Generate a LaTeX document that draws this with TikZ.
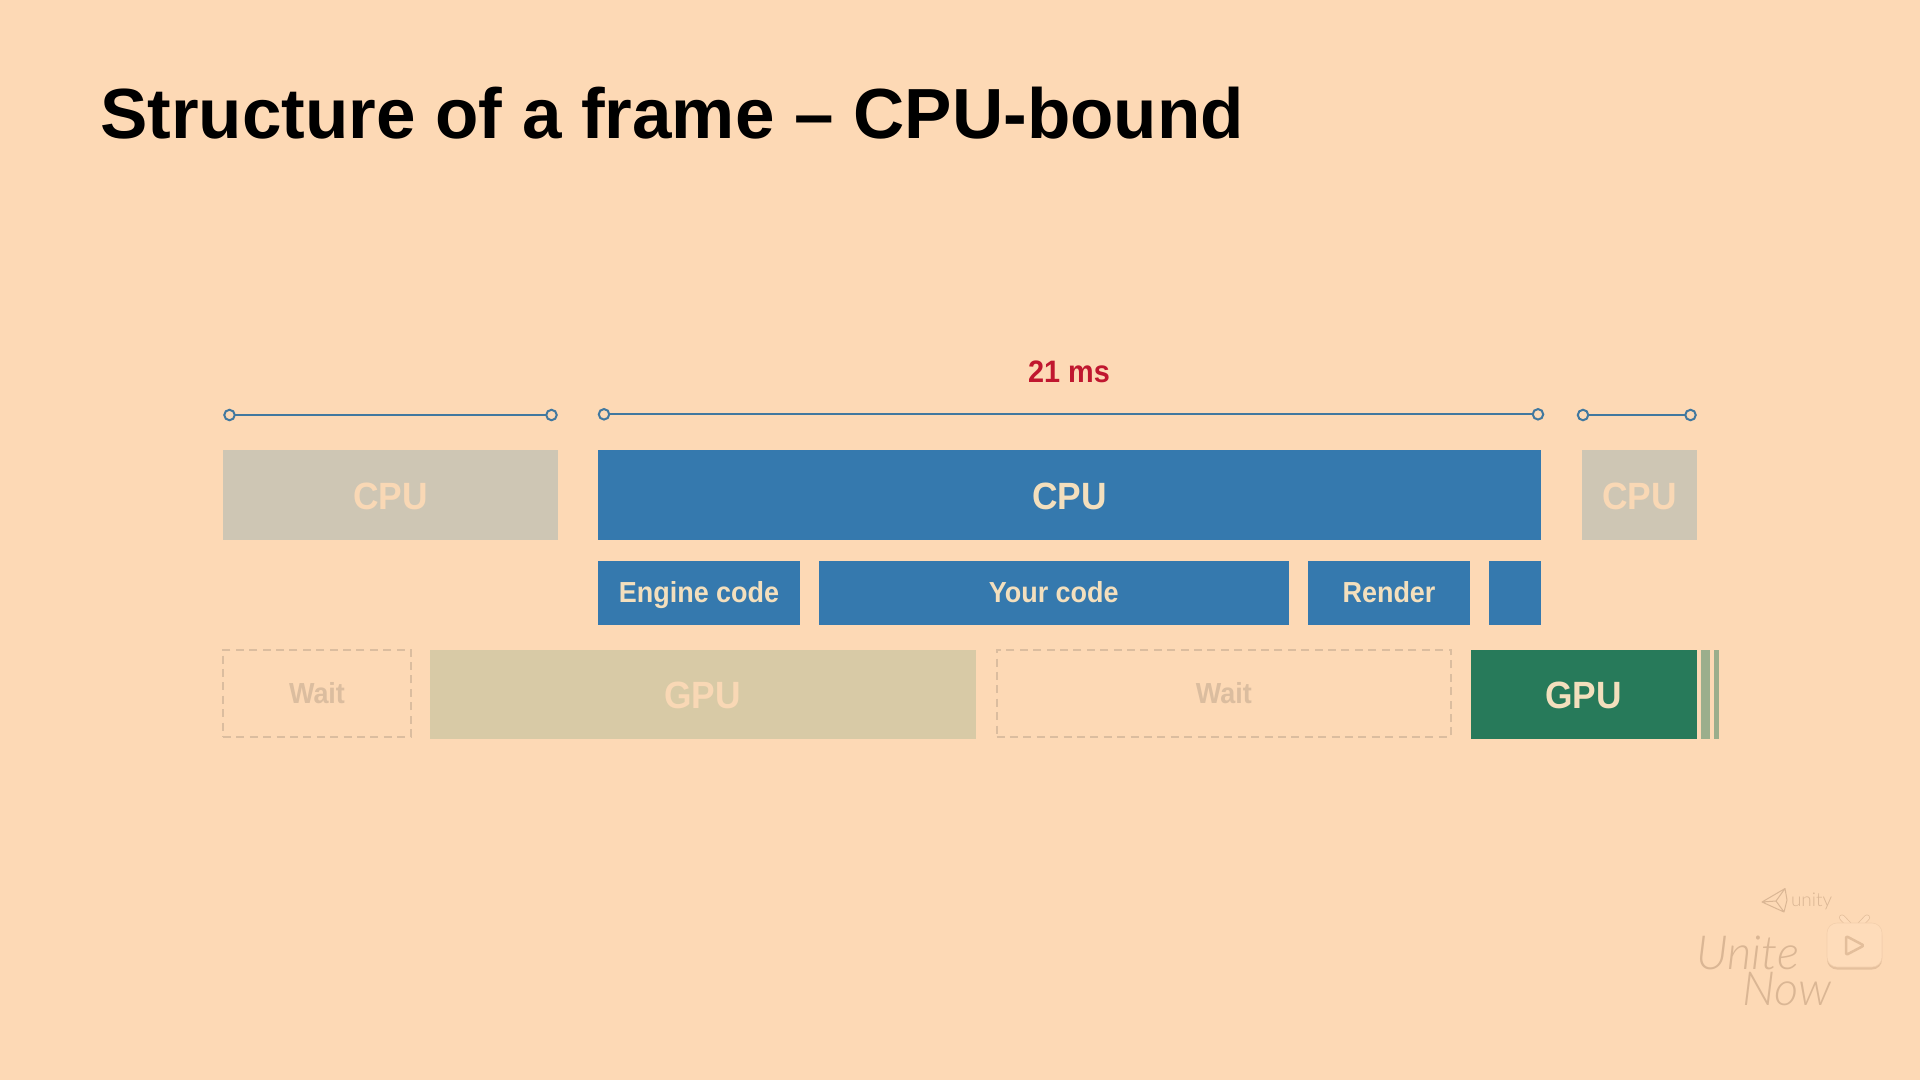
\documentclass[tikz,border=0pt]{standalone}
\usepackage{fontspec}
\usepackage{xcolor}
\usetikzlibrary{positioning,shadows}
\setmainfont{Liberation Sans}
\newfontfamily\slidefont[FakeStretch=0.93]{Liberation Sans}
\newfontfamily\brandfont{Lato Light Italic}
\newfontfamily\unityfont{Lato Light}
\definecolor{slidebg}{HTML}{FDD9B5}
\definecolor{cpublue}{HTML}{3579AE}
\definecolor{spanblue}{HTML}{41789F}
\definecolor{cpufaded}{HTML}{CEC6B4}
\definecolor{gpufaded}{HTML}{D8CAA6}
\definecolor{gpugreen}{HTML}{277A5A}
\definecolor{gpustripe}{HTML}{9BAE8C}
\definecolor{labelcream}{HTML}{F3DFBD}
\definecolor{labelfaded}{HTML}{F9D8B5}
\definecolor{waitgrey}{HTML}{DBBD9F}
\definecolor{msred}{HTML}{C0172F}
\definecolor{brandline}{HTML}{DAB694}
\definecolor{brandlight}{HTML}{FEDCBA}
\definecolor{brandshade}{HTML}{E3BE9B}
\definecolor{brandedge}{HTML}{F3CFAC}

\begin{document}
\begin{tikzpicture}[
    x=1pt, y=-1pt,
    nosep/.style={inner sep=0, outer sep=0},
    bigbox/.style={nosep, minimum height=90pt, text height=28.8pt, text depth=0pt, font=\slidefont\bfseries\fontsize{38}{38}\selectfont},
    subbox/.style={nosep, fill=cpublue, text=labelcream, minimum height=64.5pt, text height=20pt, text depth=0pt, font=\slidefont\bfseries\fontsize{29}{29}\selectfont},
    waitbox/.style={nosep, draw=waitgrey, line width=2pt, dash pattern=on 8pt off 5.4pt, text=waitgrey, minimum height=87pt, text height=20.6pt, text depth=0pt, font=\slidefont\bfseries\fontsize{29}{29}\selectfont},
    stripe/.style={nosep, fill=gpustripe, minimum height=89pt},
    ring/.style={circle, draw=spanblue, line width=2pt, nosep, minimum size=10.5pt},
    span/.style={draw=spanblue, line width=2pt}]
\fill[slidebg] (0,0) rectangle (1920,1080);

\node[nosep, anchor=base west, font=\bfseries\fontsize{71}{71}\selectfont] (title) at (100,138) {Structure of a frame – CPU-bound};

\node[bigbox, fill=cpufaded, text=labelfaded, minimum width=335pt, anchor=north west] (cpuprev) at (223,450) {CPU};
\node[bigbox, fill=cpublue, text=labelcream, minimum width=943pt, right=40pt of cpuprev] (cpumain) {CPU};
\node[bigbox, fill=cpufaded, text=labelfaded, minimum width=115pt, right=41pt of cpumain] (cpunext) {CPU};

\node[subbox, minimum width=202pt, below=20.5pt of cpumain.south west, anchor=north west] (engine) {Engine code};
\node[subbox, minimum width=470.5pt, right=18.5pt of engine] (yourcode) {Your code};
\node[subbox, minimum width=162pt, right=19pt of yourcode] (render) {Render};
\node[subbox, minimum width=52pt, right=19pt of render] (lastsub) {};

\node[waitbox, minimum width=188pt, anchor=north west] (waitprev) at (223,649.5) {Wait};
\node[bigbox, fill=gpufaded, text=labelfaded, minimum width=546pt, minimum height=89pt, anchor=north west] (gpuprev) at (429.5,650) {GPU};
\node[waitbox, minimum width=454.5pt, anchor=north west] (waitmain) at (996.5,649.5) {Wait};
\node[bigbox, fill=gpugreen, text=labelcream, minimum width=226pt, minimum height=89pt, anchor=north west] (gpumain) at (1470.7,650) {GPU};
\node[stripe, minimum width=9.5pt, right=4pt of gpumain] (stripea) {};
\node[stripe, minimum width=5.5pt, right=3.5pt of stripea] (stripeb) {};

\node[ring] (prevl) at (229.5,415) {};
\node[ring] (prevr) at (551.5,415) {};
\node[ring] (mainl) at (604,414.3) {};
\node[ring] (mainr) at (1538,414.3) {};
\node[ring] (nextl) at (1583,415) {};
\node[ring] (nextr) at (1690.5,415) {};
\path[span] (prevl) -- (prevr);
\path[span] (mainl) -- (mainr);
\path[span] (nextl) -- (nextr);

\node[nosep, text=msred, font=\slidefont\bfseries\fontsize{31}{31}\selectfont] (frametime) at (1069,372) {21 ms};

\node[nosep, anchor=base west, text=brandline, font=\unityfont\fontsize{19}{19}\selectfont] (unitylabel) at (1791,906) {unity};
\coordinate (cubel) at (1762,902);
\coordinate (cubet) at (1785,888.5);
\coordinate (cuber) at (1787,900);
\coordinate (cubeb) at (1784,912);
\coordinate (cubec) at (1776,901);
\draw[brandline, line width=1pt, line join=round] (cubel) -- (cubet) -- (cuber) -- (cubeb) -- cycle (cubel) -- (cubec) (cubet) -- (cubec) (cubeb) -- (cubec);

\node[nosep, anchor=south west, align=left, text=brandline, font=\brandfont\fontsize{47}{36}\selectfont] (unitenow) at (1696,1006) {Unite\\\hspace*{46pt}Now};

\draw[brandshade, line width=6pt, line cap=round] (1842,917.5) -- (1849,925) (1867,917.5) -- (1860,925);
\draw[brandlight, line width=4.5pt, line cap=round] (1842,917.5) -- (1849,925) (1867,917.5) -- (1860,925);
\node[nosep, fill=brandlight, draw=brandedge, line width=0.6pt, rounded corners=10pt, minimum width=55pt, minimum height=44pt, drop shadow={shadow xshift=0pt, shadow yshift=-2.5pt, fill=brandshade, opacity=0.9}, anchor=north west] (tvicon) at (1827,923) {};
\draw[brandshade, fill=brandlight, line width=2.5pt, line join=round, rounded corners=1.5pt] (1846,936) -- (1864,945.5) -- (1846,955) -- cycle;
\end{tikzpicture}
\end{document}
